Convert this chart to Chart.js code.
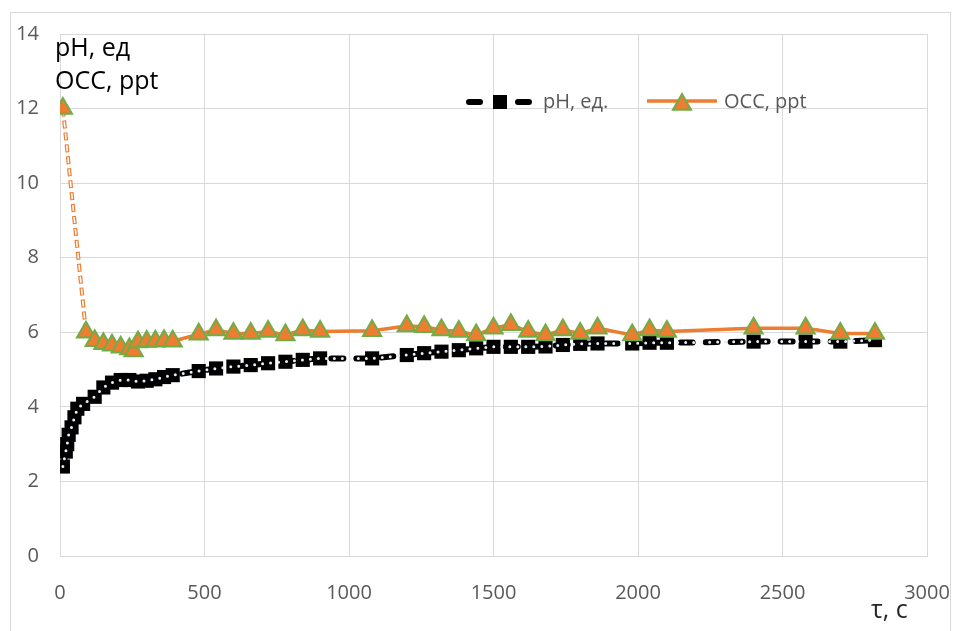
<!DOCTYPE html>
<html>
<head>
<meta charset="utf-8">
<script src="https://cdn.jsdelivr.net/npm/chart.js@4.4.1/dist/chart.umd.min.js"></script>
<style>
  html, body { margin: 0; padding: 0; background: #fff; }
  #wrap { position: relative; width: 956px; height: 631px; overflow: hidden; }
  #frame { position: absolute; left: 10px; top: 12px; width: 941px; height: 700px;
           border: 1px solid #d9d9d9; box-sizing: border-box; }
  canvas { position: absolute; left: 0; top: 0; }
</style>
</head>
<body>
<div id="wrap">
  <div id="frame"></div>
  <canvas id="c" width="956" height="631"></canvas>
</div>
<script>
// Time, s
const phTime = [10, 20, 25, 30, 40, 50, 60, 80, 120, 150, 180, 210, 240, 270, 300, 330, 360, 390,
  480, 540, 600, 660, 720, 780, 840, 900, 1080, 1200, 1260, 1320, 1380, 1440, 1500, 1560, 1620,
  1680, 1740, 1800, 1860, 1980, 2040, 2100, 2400, 2580, 2700, 2820];
// pH, units
const phValue = [2.4, 2.8, 3.0, 3.25, 3.45, 3.72, 3.95, 4.08, 4.27, 4.52, 4.65, 4.72, 4.72, 4.68, 4.70, 4.74, 4.80, 4.85,
  4.96, 5.03, 5.08, 5.12, 5.17, 5.21, 5.26, 5.30, 5.30, 5.39, 5.44, 5.48, 5.52, 5.57, 5.61, 5.61, 5.61,
  5.62, 5.66, 5.69, 5.70, 5.70, 5.72, 5.72, 5.75, 5.75, 5.75, 5.79];

// Time, s
const occTime = [10, 90, 120, 150, 180, 210, 240, 255, 270, 300, 330, 360, 390,
  480, 540, 600, 660, 720, 780, 840, 900, 1080, 1200, 1260, 1320, 1380, 1440, 1500, 1560, 1620,
  1680, 1740, 1800, 1860, 1980, 2040, 2100, 2400, 2580, 2700, 2820];
// ОСС, ppt
const occValue = [12.0, 6.0, 5.77, 5.69, 5.65, 5.60, 5.55, 5.50, 5.74, 5.75, 5.76, 5.77, 5.76,
  5.95, 6.06, 5.97, 5.97, 6.02, 5.93, 6.06, 6.02, 6.04, 6.17, 6.15, 6.06, 6.02, 5.93, 6.11, 6.20, 6.02,
  5.93, 6.06, 5.97, 6.11, 5.93, 6.06, 6.02, 6.11, 6.11, 5.97, 5.97];

const xTicks = { min: 0, max: 3000, step: 500 };
const yTicks = { min: 0, max: 14, step: 2 };

const phLabel = 'pH, ед.';
const occLabel = 'ОСС, ppt';

const ORANGE = '#ED7D31';
const GREEN = '#70AD47';
const GRID = '#d9d9d9';
const TICK = '#595959';
const FONT = '"Open Sans", "DejaVu Sans", sans-serif';

const toPoints = (xs, ys) => xs.map((x, i) => ({ x, y: ys[i] }));
const phPoints = toPoints(phTime, phValue);
const occPoints = toPoints(occTime, occValue);

// Legend, axis captions
const captions = {
  id: 'captions',
  afterDraw(chart) {
    const ctx = chart.ctx;
    ctx.save();
    ctx.fillStyle = '#000';
    ctx.textAlign = 'left';
    ctx.textBaseline = 'alphabetic';
    ctx.font = '25px ' + FONT;
    ctx.fillText('pH, ед', 55, 56);
    ctx.fillText('ОСС, ppt', 55, 89);
    ctx.fillStyle = '#262626';
    ctx.fillText('τ, с', 871, 618);

    // legend entry: pH
    const ly = 102;
    ctx.strokeStyle = '#000';
    ctx.lineWidth = 6;
    ctx.lineCap = 'round';
    ctx.beginPath();
    ctx.moveTo(469, ly); ctx.lineTo(480, ly);
    ctx.moveTo(518, ly); ctx.lineTo(529, ly);
    ctx.stroke();
    ctx.fillStyle = '#000';
    ctx.fillRect(493, ly - 7, 14, 14);

    ctx.font = '20px ' + FONT;
    ctx.fillStyle = TICK;
    ctx.textBaseline = 'middle';
    ctx.fillText(phLabel, 543, ly);

    // legend entry: ОСС
    ctx.strokeStyle = ORANGE;
    ctx.lineWidth = 3.5;
    ctx.lineCap = 'butt';
    ctx.beginPath();
    ctx.moveTo(647, ly - 1); ctx.lineTo(717, ly - 1);
    ctx.stroke();
    const r = 10.5, cx = 682, cy = ly + 2.5;
    ctx.beginPath();
    ctx.moveTo(cx, cy - r);
    ctx.lineTo(cx + 0.866 * r, cy + 0.5 * r);
    ctx.lineTo(cx - 0.866 * r, cy + 0.5 * r);
    ctx.closePath();
    ctx.fillStyle = ORANGE;
    ctx.fill();
    ctx.strokeStyle = GREEN;
    ctx.lineWidth = 2;
    ctx.stroke();
    ctx.fillStyle = TICK;
    ctx.fillText(occLabel, 724, ly);
    ctx.restore();
  }
};

const axisCommon = (t, padding) => ({
  type: 'linear',
  min: t.min,
  max: t.max,
  ticks: {
    stepSize: t.step, color: TICK, font: { family: FONT, size: 20 }, padding,
    callback: v => String(v)
  },
  grid: { color: GRID, lineWidth: 1, drawTicks: false },
  border: { color: GRID, width: 1 }
});

new Chart(document.getElementById('c'), {
  type: 'line',
  data: {
    datasets: [
      { // light dotted trace over pH
        label: 'pH-dots', data: phPoints, order: 0,
        borderColor: '#e4eef9', borderWidth: 3, borderDash: [0, 8], borderCapStyle: 'round',
        pointRadius: 0, fill: false
      },
      { // ОСС markers
        label: occLabel, data: occPoints, order: 1, showLine: false,
        pointStyle: 'triangle', pointRadius: 10.5, pointBackgroundColor: ORANGE,
        pointBorderColor: GREEN, pointBorderWidth: 2
      },
      { // hollow inner stroke of the first, dashed ОСС segment
        label: 'occ-inner', data: occPoints.slice(0, 2), order: 2,
        borderColor: '#ffffff', borderWidth: 1.6, borderDash: [6, 6], borderDashOffset: -1,
        pointRadius: 0, fill: false
      },
      { // ОСС line
        label: 'occ-line', data: occPoints, order: 3,
        borderColor: ORANGE, borderWidth: 3.5, pointRadius: 0, fill: false,
        segment: {
          borderDash: c => (c.p0DataIndex === 0 ? [8, 4] : undefined),
          borderWidth: c => (c.p0DataIndex === 0 ? 4 : 3.5)
        }
      },
      { // smoothed ОСС trace
        label: 'occ-smooth', data: occPoints.slice(1), order: 4,
        borderColor: ORANGE, borderWidth: 2, borderDash: [7, 3],
        cubicInterpolationMode: 'monotone', pointRadius: 0, fill: false
      },
      { // pH line with square markers
        label: phLabel, data: phPoints, order: 5,
        borderColor: '#000', borderWidth: 6, borderDash: [12, 13], borderCapStyle: 'round',
        pointStyle: 'rect', pointRadius: 10, pointBackgroundColor: '#000',
        pointBorderColor: '#000', pointBorderWidth: 0, fill: false
      }
    ]
  },
  options: {
    responsive: false,
    animation: false,
    devicePixelRatio: 1,
    layout: { padding: { top: 34, right: 29, left: 0, bottom: 0 } },
    plugins: { legend: { display: false }, tooltip: { enabled: false } },
    scales: {
      x: Object.assign(axisCommon(xTicks, 25), {
        afterFit: s => { s.height = 75; s.paddingLeft = 0; s.paddingRight = 0; }
      }),
      y: Object.assign(axisCommon(yTicks, 21), {
        afterFit: s => { s.width = 60; s.paddingTop = 0; s.paddingBottom = 0; }
      })
    }
  },
  plugins: [captions]
});
</script>
</body>
</html>
